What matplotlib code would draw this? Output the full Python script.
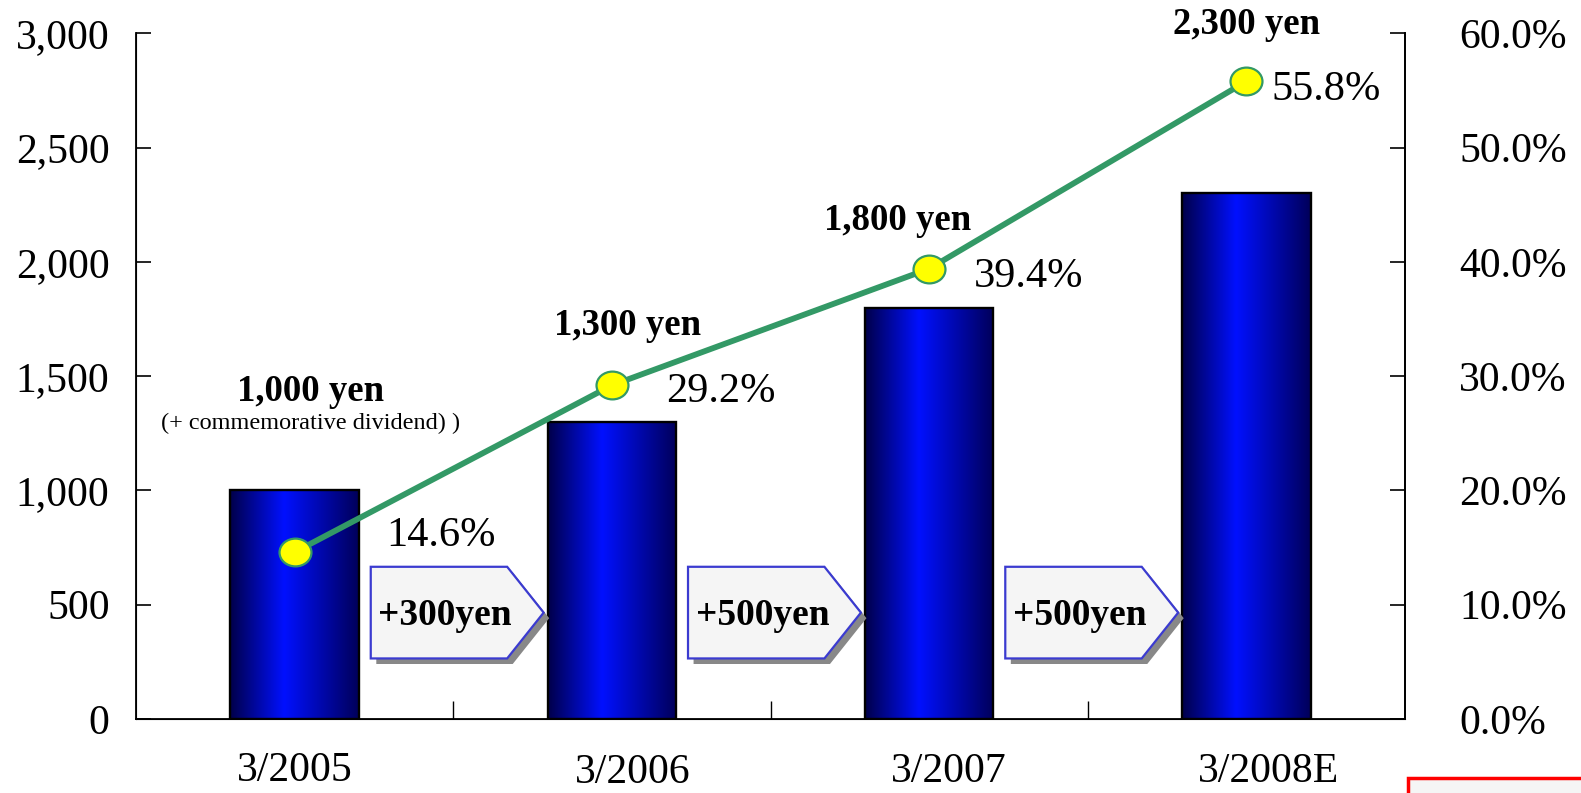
import numpy as np
import matplotlib.pyplot as plt
import matplotlib as mpl
import matplotlib.patheffects as pe
from matplotlib.patches import Polygon, Rectangle
from matplotlib.path import Path
from matplotlib.transforms import Affine2D, ScaledTranslation
from matplotlib.colors import LinearSegmentedColormap
from matplotlib.ticker import FuncFormatter, FixedLocator

mpl.rc("font", family="Liberation Serif")
mpl.rc("figure", facecolor="w")

# ----- data -----
periods = ["3/2005", "3/2006", "3/2007", "3/2008E"]
dividends = [1000, 1300, 1800, 2300]        # yen per share
payout_ratio = [14.6, 29.2, 39.4, 55.8]     # %
dividend_labels = ["1,000 yen", "1,300 yen", "1,800 yen", "2,300 yen"]
ratio_labels = ["14.6%", "29.2%", "39.4%", "55.8%"]
note_first = "(+ commemorative dividend) )"

# ----- styling / label placement -----
bar_width = 0.405
line_color = "#339966"
yen_label_dx = [0.05, 0.05, -0.1, 0.0]
yen_label_y = [28.7, 34.4, 43.6, 60.8]      # right-axis units
pct_label_dx = [0.29, 0.17, 0.14, 0.08]
pct_label_dy = [1.4, -0.6, -0.7, -0.7]
period_dx_px = [0, 21, 20, 22]
period_dy_px = [1, -1, 0, 0]

x = np.arange(len(periods))

fig = plt.figure(figsize=(15.81, 7.93), dpi=100)
ax = fig.add_axes([0.086, 0.0933, 0.8027, 0.8647])
ax2 = ax.twinx()

# bars with horizontal blue gradient
cmap = LinearSegmentedColormap.from_list(
    "barblue", [(0.0, "#00004a"), (0.42, "#0010ff"), (1.0, "#00005a")])
grad = np.linspace(0, 1, 256)[None, :]
for xi, val in zip(x, dividends):
    x0 = xi - bar_width / 2
    ax.imshow(grad, cmap=cmap, aspect="auto", zorder=2,
              extent=[x0, x0 + bar_width, 0, val], interpolation="bicubic")
ax.bar(x, dividends, width=bar_width, facecolor="none", edgecolor="black",
       linewidth=1.7, zorder=3)

# increment arrows between bars
increments = np.diff(dividends)
for i, inc in enumerate(increments):
    left = i + 0.24
    shoulder = left + 0.43
    tip = left + 0.545
    y0, y1 = 265, 666
    ym = (y0 + y1) / 2
    poly = Polygon([[left, y0], [left, y1], [shoulder, y1], [tip, ym], [shoulder, y0]],
                   closed=True, facecolor="#f5f5f5", edgecolor="#3b3bd0",
                   linewidth=1.6, zorder=4)
    poly.set_path_effects([pe.SimplePatchShadow(offset=(4, -4), shadow_rgbFace="#888888", alpha=1.0),
                           pe.Normal()])
    ax.add_patch(poly)
    ax.text(left + 0.235, ym - 12, f"+{inc}yen", ha="center", va="center",
            fontsize=27, fontweight="bold", zorder=5)

ax.set_xlim(-0.5, len(periods) - 0.5)
ax.set_ylim(0, 3000)
ax.set_yticks(np.arange(0, 3001, 500))
ax.yaxis.set_major_formatter(FuncFormatter(lambda v, p: f"{int(v):,}"))
ax.tick_params(axis="y", direction="in", length=11, width=1.2, pad=19, labelsize=30)

# category boundaries as ticks, period names as label-only minor ticks
ax.xaxis.set_major_locator(FixedLocator(x[:-1] + 0.5))
ax.xaxis.set_minor_locator(FixedLocator(x))
ax.set_xticklabels([], minor=False)
ax.set_xticklabels(periods, minor=True)
ax.tick_params(axis="x", which="major", direction="in", length=13, width=1.0)
ax.tick_params(axis="x", which="minor", length=0, pad=24, labelsize=30)
for lbl, dx, dy in zip(ax.xaxis.get_minorticklabels(), period_dx_px, period_dy_px):
    lbl.set_transform(lbl.get_transform() + ScaledTranslation(dx / 100, dy / 100, fig.dpi_scale_trans))

for side in ["left", "bottom", "right"]:
    ax.spines[side].set_linewidth(1.3)
ax.spines["top"].set_visible(False)

# payout ratio line with slightly flattened round markers
ellipse = Path.unit_circle().transformed(Affine2D().scale(1.0, 0.87))
ax2.plot(x, payout_ratio, color=line_color, linewidth=4.2, marker=ellipse,
         markersize=23, markerfacecolor="#ffff00", markeredgecolor=line_color,
         markeredgewidth=1.6, zorder=5)
ax2.set_ylim(0, 60)
ax2.set_yticks(np.arange(0, 61, 10))
ax2.yaxis.set_major_formatter(FuncFormatter(lambda v, p: f"{v:.1f}%"))
ax2.tick_params(axis="y", direction="in", length=11, width=1.2, pad=39, labelsize=30)
ax2.spines["top"].set_visible(False)
ax2.spines["right"].set_linewidth(1.3)

for i in range(len(periods)):
    ax2.text(x[i] + yen_label_dx[i], yen_label_y[i], dividend_labels[i],
             ha="center", va="center", fontsize=26.5, fontweight="bold", zorder=6)
    ax2.text(x[i] + pct_label_dx[i], payout_ratio[i] + pct_label_dy[i], ratio_labels[i],
             ha="left", va="center", fontsize=30.5, zorder=6)
ax2.text(x[0] + 0.05, 25.9, note_first, ha="center", va="center", fontsize=17.5, zorder=6)

# framed panel peeking in at the lower right corner
fig.patches.append(Rectangle((0.8906, -0.05), 0.2, 0.0689, transform=fig.transFigure,
                             facecolor="#f5f5f5", edgecolor="red", linewidth=2.5))

plt.savefig("out.png", dpi=100)
